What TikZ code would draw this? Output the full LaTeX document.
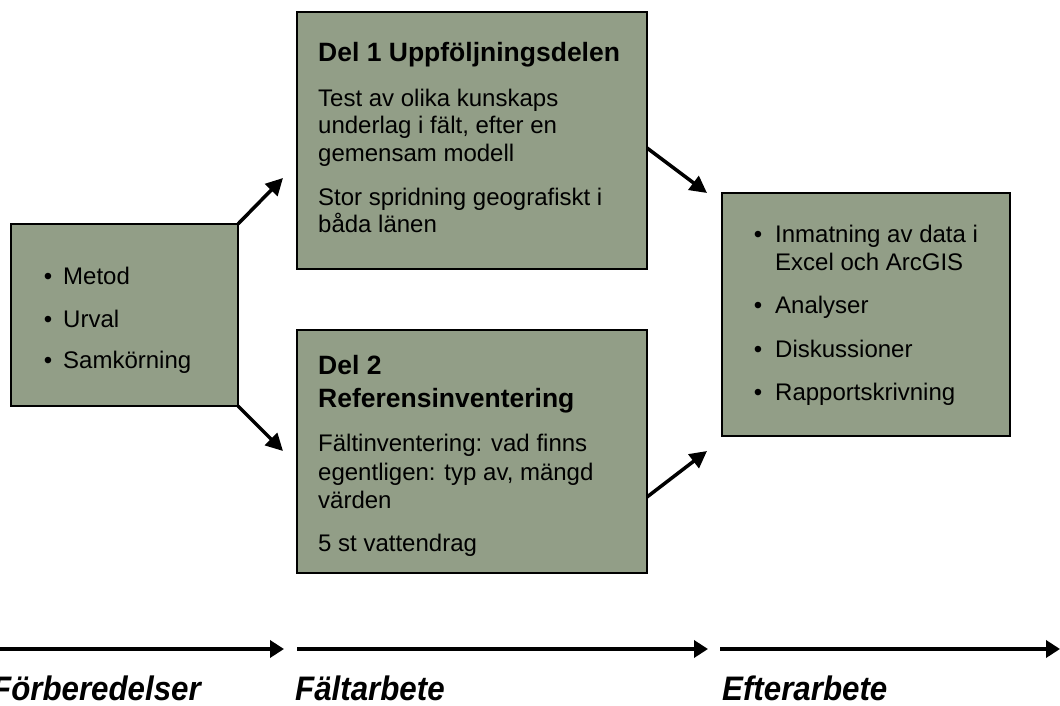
\documentclass[tikz,border=0pt]{standalone}
\usepackage{fontspec}
\setmainfont{Liberation Sans}
\usetikzlibrary{arrows.meta,calc}
\definecolor{boxfill}{RGB}{146,158,135}
\begin{document}
\begin{tikzpicture}[x=1pt,y=-1pt,
  box/.style={draw=black,line width=1.6pt,fill=boxfill,inner sep=0pt,outer sep=0pt},
  txt/.style={anchor=base west,inner sep=0pt,font=\fontsize{24}{28}\selectfont},
  btxt/.style={txt,font=\fontsize{26.5}{30}\selectfont\bfseries},
  bul/.style={anchor=base,inner sep=0pt,font=\fontsize{24}{28}\selectfont},
  flow/.style={line width=3.5pt,-{Triangle[length=17pt,width=17pt]}},
  tline/.style={line width=4pt,-{Triangle[length=14pt,width=17pt]}},
  phase/.style={anchor=base west,inner sep=0pt,font=\fontsize{34}{40}\selectfont\bfseries\itshape}]
\useasboundingbox (0,0) rectangle (1060,706);
\fill[white] (0,0) rectangle (1060,706);

% boxes
\node[box,minimum width=227pt,minimum height=182pt] (A) at (124.5,315) {};
\node[box,minimum width=350pt,minimum height=257pt] (B1) at (472,140.5) {};
\node[box,minimum width=350pt,minimum height=243pt] (B2) at (472,451.5) {};
\node[box,minimum width=288pt,minimum height=243pt] (C) at (866,314.5) {};

% box A text
\node[bul] (Ab1) at (48,284) {•};
\node[txt] (At1) at (63,284) {Metod};
\node[bul] (Ab2) at (48,327) {•};
\node[txt] (At2) at (63,327) {Urval};
\node[bul] (Ab3) at (48,368) {•};
\node[txt] (At3) at (63,368) {Samkörning};

% box B1 text
\node[btxt] (B1h) at (318,62) {Del 1 Uppföljningsdelen};
\node[txt] (B1t1) at (318,107) {Test av olika kunskaps};
\node[txt] (B1t2) at (318,134) {underlag i fält, efter en};
\node[txt] (B1t3) at (318,161) {gemensam modell};
\node[txt] (B1t4) at (318,205) {Stor spridning geografiskt i};
\node[txt] (B1t5) at (318,232) {båda länen};

% box B2 text
\node[btxt] (B2h1) at (318,374) {Del 2};
\node[btxt] (B2h2) at (318,407) {Referensinventering};
\node[txt] (B2t1) at (318,451) {Fältinventering: vad finns};
\node[txt] (B2t2) at (318,480) {egentligen: typ av, mängd};
\node[txt] (B2t3) at (318,508) {värden};
\node[txt] (B2t4) at (318,551) {5 st vattendrag};

% box C text
\node[bul] (Cb1) at (758,242) {•};
\node[txt] (Ct1) at (775,242) {Inmatning av data i};
\node[txt] (Ct1b) at (775,270) {Excel och ArcGIS};
\node[bul] (Cb2) at (758,313) {•};
\node[txt] (Ct2) at (775,313) {Analyser};
\node[bul] (Cb3) at (758,357) {•};
\node[txt] (Ct3) at (775,357) {Diskussioner};
\node[bul] (Cb4) at (758,400) {•};
\node[txt] (Ct4) at (775,400) {Rapportskrivning};

% connectors
\coordinate (t1) at (283,178);
\coordinate (t2) at (283,451);
\coordinate (t3) at (707,193);
\coordinate (t4) at (707,451);
\draw[flow] (A.north east) -- (t1);
\draw[flow] (A.south east) -- (t2);
\draw[flow] ([yshift=-7.5pt]B1.east) -- (t3);
\draw[flow] ([yshift=-45.5pt]B2.east) -- (t4);

% timeline
\coordinate (p0) at (0,649);
\coordinate (p1) at (284,649);
\coordinate (p2) at (297,649);
\coordinate (p3) at (708,649);
\coordinate (p4) at (720,649);
\coordinate (p5) at (1060,649);
\draw[tline] (p0) -- (p1);
\draw[tline] (p2) -- (p3);
\draw[tline] (p4) -- (p5);

\node[phase,anchor=base east] (L1) at (201,700) {\scalebox{0.92}[1]{Förberedelser}};
\node[phase] (L2) at (295,700) {\scalebox{0.92}[1]{Fältarbete}};
\node[phase] (L3) at (722,700) {\scalebox{0.92}[1]{Efterarbete}};
\end{tikzpicture}
\end{document}
